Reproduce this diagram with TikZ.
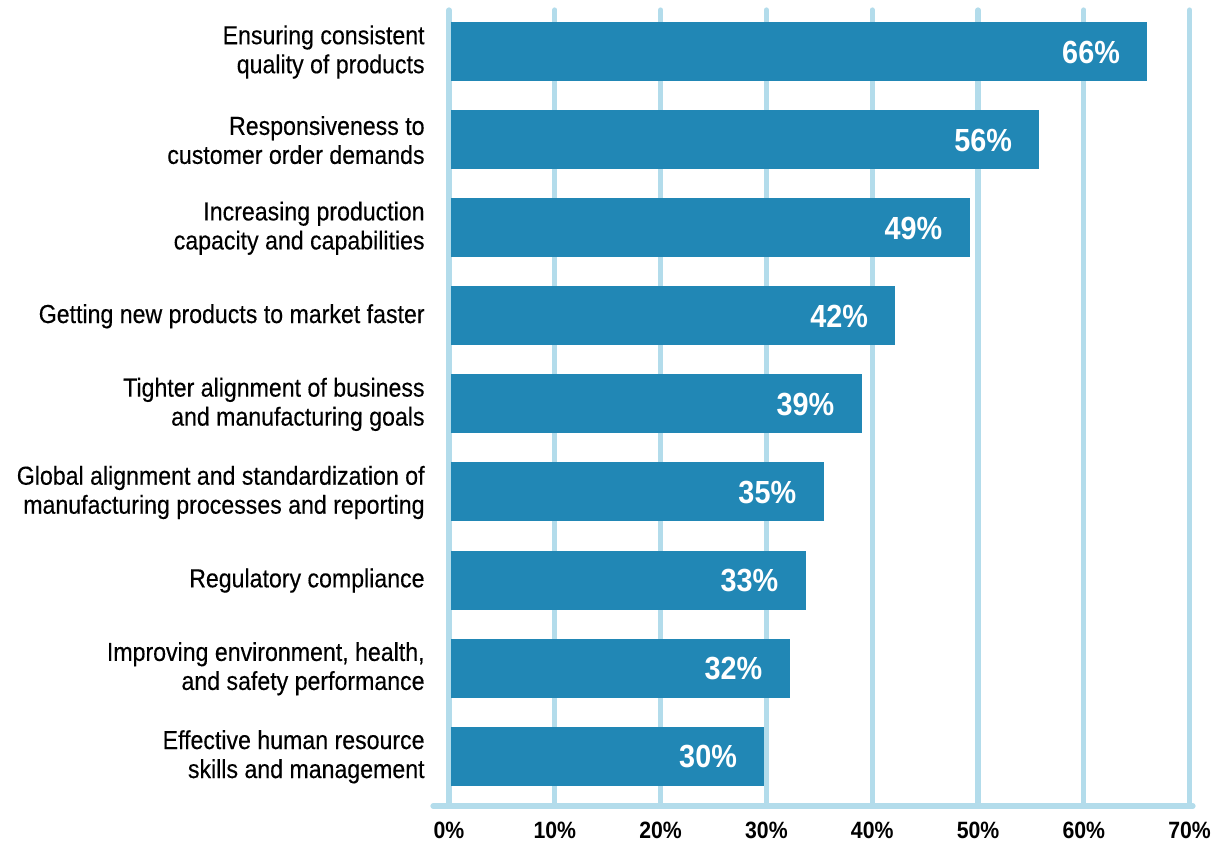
\documentclass[tikz,border=0pt]{standalone}
\usepackage{fontspec}
\setmainfont[FakeStretch=0.89, FakeBold=0.3]{Liberation Sans}
\newfontfamily\figfont[FakeStretch=0.9]{Liberation Sans}
\definecolor{barblue}{HTML}{2187B5}
\definecolor{gridblue}{HTML}{B3DCEB}
\tikzset{
  gridline/.style={draw=gridblue, line width=2.6pt, line cap=round},
  barbox/.style={fill=barblue},
  catlabel/.style={anchor=east, align=right, inner sep=0pt, font=\fontsize{13}{14.5}\selectfont},
  vallabel/.style={anchor=east, inner sep=0pt, text=white, font=\figfont\fontsize{16}{17}\selectfont\bfseries},
  ticklabel/.style={inner sep=0pt, font=\figfont\fontsize{11.8}{13}\selectfont\bfseries}
}
\begin{document}
\begin{tikzpicture}[x=0.5pt, y=-0.5pt]
  \useasboundingbox (0,0) rectangle (1216,844);

  % grid and axis
  \foreach \g/\lbl in {0/0,1/10,2/20,3/30,4/40,5/50,6/60,7/70} {
    \draw[gridline] ({449+105.8*\g},10) -- ({449+105.8*\g},806);
    \node[ticklabel] (tick\g) at ({449+105.8*\g},830) {\lbl\%};
  }
  \draw[gridline] (433,806) -- (1193,806);

  % bars
  \foreach \i/\v/\p/\txt in {
      0/66.0/66/{Ensuring consistent\\quality of products},
      1/55.8/56/{Responsiveness to\\customer order demands},
      2/49.2/49/{Increasing production\\capacity and capabilities},
      3/42.2/42/{Getting new products to market faster},
      4/39.0/39/{Tighter alignment of business\\and manufacturing goals},
      5/35.4/35/{Global alignment and standardization of\\manufacturing processes and reporting},
      6/33.7/33/{Regulatory compliance},
      7/32.2/32/{Improving environment, health,\\and safety performance},
      8/29.8/30/{Effective human resource\\skills and management}} {
    \fill[barbox] (451,{22+88.1*\i}) rectangle ({449+10.58*\v},{81+88.1*\i});
    \node[vallabel] (val\i) at ({449+10.58*\v-27},{52+88.1*\i}) {\p\%};
    \node[catlabel] (cat\i) at (425,{52+88.1*\i}) {\txt};
  }
\end{tikzpicture}
\end{document}
